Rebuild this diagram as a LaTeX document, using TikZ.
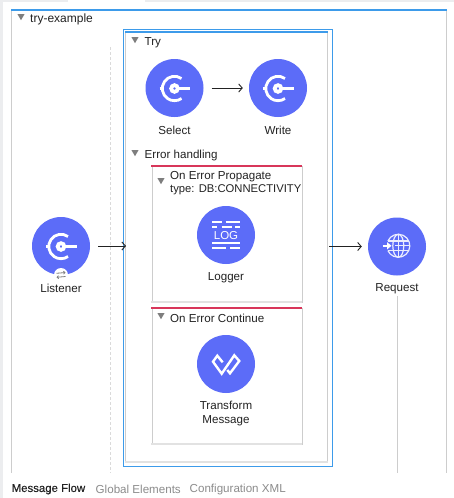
\documentclass[tikz,border=0pt]{standalone}
\usepackage{fontspec}
\setmainfont{Liberation Sans}
\newfontfamily\medfont[FakeBold=0.25]{Liberation Sans}
\usetikzlibrary{arrows.meta}
\definecolor{purp}{HTML}{5C6CF8}
\definecolor{blu}{HTML}{3D9BEA}
\definecolor{redl}{HTML}{D8365A}
\definecolor{gl}{HTML}{CDCDCD}
\definecolor{gd}{HTML}{DADADA}
\definecolor{gb}{HTML}{E2E2E2}
\definecolor{bgg}{HTML}{ECEDEF}
\definecolor{tri}{HTML}{7E7E7E}
\definecolor{ink}{HTML}{222222}
\definecolor{tabg}{HTML}{8C8C8C}
\tikzset{
  x=1pt,y=-1pt,
  comp/.style={circle,fill=purp,draw=none,minimum size=58pt,inner sep=0pt},
  lab/.style={font=\fontsize{11.6}{13.4}\selectfont,text=ink,inner sep=0pt,align=center},
  head/.style={font=\fontsize{11.6}{13.4}\selectfont,text=ink,inner sep=0pt,anchor=west,align=left},
  tab/.style={font=\fontsize{11.6}{13}\selectfont,text=tabg,inner sep=0pt,anchor=west},
  flow/.style={draw=ink,line width=.9pt,-{Straight Barb[length=3.5pt,width=8pt]}},
  frameline/.style={draw=gl,line width=1pt},
  wl/.style={draw=white,line width=#1},
  twisty/.pic={\fill[tri] (-3.6,-3) -- (3.6,-3) -- (0,3.2) -- cycle;},
  connicon/.pic={
    \draw[wl=2.8pt] (7,-10) arc[start angle=305,end angle=55,radius=12.2];
    \draw[wl=3pt] (-15,0) -- (-11,0);
    \draw[wl=3.8pt] (0,0) circle[radius=3.3];
    \draw[wl=3.6pt] (4,0) -- (15.5,0);
  },
  logicon/.pic={
    \draw[wl=2pt] (-14,-12.7) -- (-4.4,-12.7) (-.3,-12.7) -- (14,-12.7);
    \draw[wl=2pt] (-14,-7.6) -- (-9,-7.6) (-4.5,-7.6) -- (6,-7.6) (9,-7.6) -- (14,-7.6);
    \draw[wl=2pt] (-14,7.7) -- (14,7.7);
    \draw[wl=2pt] (-14,12.7) -- (0,12.7) (4,12.7) -- (14,12.7);
    \node[inner sep=0pt,text=white,font=\fontsize{11.5}{11}\selectfont] (logtext) at (0,.2) {LOG};
  },
  transicon/.pic={
    \draw[wl=2.4pt,line join=miter] (-3.3,-1.7) -- (-8.7,-8.3) -- (-13,-2.3) -- (-4.3,9.7) -- (8.3,-8.7) -- (13.3,-3) -- (4,9.3) -- (1.3,6);
  },
  globeicon/.pic={
    \begin{scope}[draw=white!88!purp,line width=1.2pt]
      \draw (1.3,-.7) ++(-10.4,-4.9) arc[start angle=205,end angle=515,radius=11.5];
      \draw (1.3,-12.2) -- (1.3,10.8);
      \draw (1.3,-.7) ellipse[x radius=5.5,y radius=11.5];
      \draw (-9,-5.5) -- (11.8,-5.5) (-9,4.1) -- (11.8,4.1) (-2,-.7) -- (12.8,-.7);
    \end{scope}
    \draw[white,line width=1.8pt] (-14.5,-.7) -- (-9,-.7);
    \fill[white] (-10,-4.4) -- (-5.5,-.7) -- (-10,3) -- cycle;
  }
}
\begin{document}
\begin{tikzpicture}
\useasboundingbox (0,0) rectangle (454,498);
\fill[white] (0,0) rectangle (454,498);
\fill[bgg] (0,0) rectangle (68,2);
\fill[bgg] (145,0) rectangle (454,2);
\fill[bgg] (0,0) rectangle (3,498);
% outer frame
\draw[frameline] (11.5,9) -- (11.5,473);
\draw[frameline] (446.5,9) -- (446.5,473);
\draw[blu,line width=2pt] (11,9.5) -- (447,9.5);
\draw[gd,line width=1pt,dash pattern=on 3pt off 2pt] (110.5,47) -- (110.5,473);
\pic at (21,17) {twisty};
\node[head,font=\fontsize{12}{13.4}\selectfont] (title) at (30,19) {try-example};
% try scope
\node[draw=blu,line width=1pt,minimum width=209pt,minimum height=436.5pt,inner sep=0pt,anchor=north west] (tryouter) at (122.5,29) {};
\draw[frameline] (125.5,33) -- (125.5,461.5);
\draw[frameline] (327.5,33) -- (327.5,461.5);
\draw[gb,line width=2pt] (125,462) -- (328,462);
\draw[blu,line width=2pt] (125,32) -- (328,32);
\pic at (135,40) {twisty};
\node[head] (trylabel) at (144.5,42.5) {Try};
\node[comp] (select) at (174.5,88) {};
\node[comp] (write) at (278,88) {};
\pic at (174.5,88.5) {connicon};
\pic at (278,88.5) {connicon};
\node[lab] (selectlab) at (174.5,130.5) {Select};
\node[lab] (writelab) at (278,130.5) {Write};
\draw[flow,shorten <=8pt,shorten >=6pt] (select) -- (write);
\pic at (135,153) {twisty};
\node[head] (errlabel) at (144.5,155.5) {Error handling};
% error boxes
\node[draw=gl,line width=1pt,minimum width=150pt,minimum height=135.5pt,inner sep=0pt,anchor=north west] (propbox) at (151.5,166) {};
\draw[gb,line width=2pt] (151,301.5) -- (302,301.5);
\draw[redl,line width=2pt] (151,166) -- (302,166);
\pic at (161,181) {twisty};
\node[head,font=\fontsize{11.6}{13.4}\selectfont] (proplabel) at (170,183) {On Error Propagate\\\fontsize{11.25}{13.4}\selectfont type: DB:CONNECTIVITY};
\node[comp] (logger) at (226,235) {};
\pic at (226,235) {logicon};
\node[lab] (loggerlab) at (226,278) {Logger};
\node[draw=gl,line width=1pt,minimum width=150pt,minimum height=136pt,inner sep=0pt,anchor=north west] (contbox) at (151.5,308) {};
\draw[gb,line width=2pt] (151,444) -- (302,444);
\draw[redl,line width=2pt] (151,308) -- (302,308);
\pic at (161,316) {twisty};
\node[head] (contlabel) at (170,318.5) {On Error Continue};
\node[comp] (transform) at (226,364) {};
\pic at (226,364) {transicon};
\node[lab] (transformlab) at (226,413.5) {Transform\\Message};
% listener
\node[comp] (listener) at (61,246) {};
\pic at (61,246.5) {connicon};
\node[circle,fill=white,minimum size=14pt,inner sep=0pt] (badge) at (61,275) {};
\draw[tri,line width=.8pt,-{Straight Barb[length=1.5pt,width=3pt]}] (56.5,273.3) -- (65.5,272.5);
\draw[tri,line width=.8pt,-{Straight Barb[length=1.5pt,width=3pt]}] (65.5,276.5) -- (56.5,277.3);
\node[lab] (listenerlab) at (61,288.5) {Listener};
% request
\node[comp] (request) at (397,246.5) {};
\pic at (397,246.5) {globeicon};
\node[lab] (requestlab) at (397,289) {Request};
\draw[frameline] (397,296) -- (397,473);
% connectors
\draw[flow,shorten <=8pt,shorten >=-3.5pt] (listener.east) -- (tryouter.west |- listener.east);
\draw[flow,shorten <=-3.5pt,shorten >=6pt] (tryouter.east |- request.west) -- (request.west);
% tabs
\node[tab,text=ink,font=\fontsize{11.4}{13}\medfont] (tabflow) at (11.5,489) {Message Flow};
\node[tab] (tabglobal) at (95.5,489) {Global Elements};
\node[tab] (tabxml) at (189.5,489) {Configuration XML};
\end{tikzpicture}
\end{document}
